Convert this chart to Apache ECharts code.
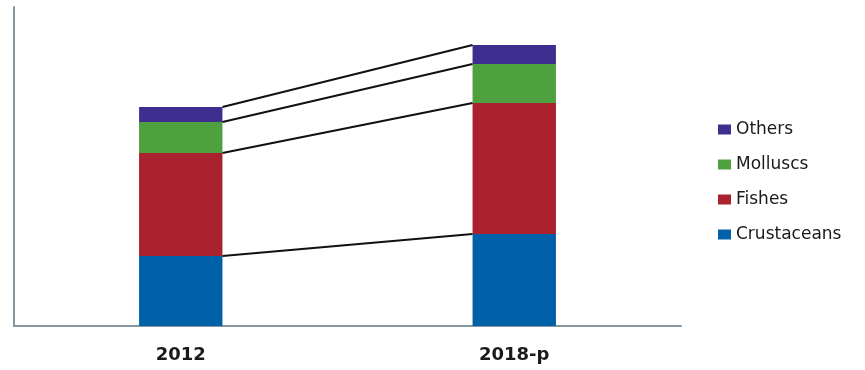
<!DOCTYPE html>
<html>
<head>
    <meta charset="utf-8">
    <title>Production by species group</title>
    <script src="https://cdn.jsdelivr.net/npm/echarts@6/dist/echarts.min.js"></script>
    <style>
        html, body { margin: 0; padding: 0; background: #fff; }
        #chart { width: 865px; height: 370px; }
    </style>
</head>
<body>
<div id="chart"></div>
<script type="text/javascript">
    // categories and values (arbitrary units)
    var years = ['2012', '2018-p'];
    var crustaceans = [7.0, 9.2];
    var fishes = [10.3, 13.1];
    var molluscs = [3.1, 3.9];
    var others = [1.5, 1.9];

    var names = ['Crustaceans', 'Fishes', 'Molluscs', 'Others'];
    var colors = ['#0061a9', '#a9222d', '#4fa03f', '#3d2e90'];
    var BAR_RATIO = 0.25;

    // cumulative tops of every stack layer, one row per layer: [2012, 2018-p]
    var layers = [crustaceans, fishes, molluscs, others];
    var tops = [];
    var run = [0, 0];
    layers.forEach(function (arr) {
        run = [run[0] + arr[0], run[1] + arr[1]];
        tops.push([run[0], run[1]]);
    });

    var myChart = echarts.init(document.getElementById('chart'));

    var series = layers.map(function (arr, i) {
        return {
            name: names[i],
            type: 'bar',
            stack: 'total',
            barWidth: (BAR_RATIO * 100) + '%',
            itemStyle: { color: colors[i] },
            data: arr
        };
    });

    // connector lines from the right edge of one bar to the left edge of the next
    series.push({
        type: 'custom',
        silent: true,
        z: 5,
        data: tops,
        renderItem: function (params, api) {
            var a = api.coord([0, api.value(0)]);
            var b = api.coord([1, api.value(1)]);
            var half = api.size([1, 0])[0] * BAR_RATIO / 2;
            return {
                type: 'line',
                shape: { x1: a[0] + half, y1: a[1], x2: b[0] - half, y2: b[1] },
                style: { stroke: '#111', lineWidth: 2 }
            };
        },
        encode: { x: -1, y: [0, 1] }
    });

    myChart.setOption({
        animation: false,
        grid: { left: 14, right: 184, top: 7, bottom: 44 },
        legend: {
            orient: 'vertical',
            left: 713,
            top: 116,
            itemWidth: 13,
            itemHeight: 10,
            itemGap: 18,
            icon: 'rect',
            data: ['Others', 'Molluscs', 'Fishes', 'Crustaceans'],
            textStyle: { fontFamily: 'DejaVu Sans', fontSize: 17, color: '#1a1a1a', lineHeight: 17 }
        },
        xAxis: {
            type: 'category',
            data: years,
            axisTick: { show: false },
            axisLine: { lineStyle: { color: '#8896a0', width: 2 } },
            axisLabel: { fontFamily: 'DejaVu Sans', fontSize: 18, fontWeight: 'bold', color: '#1a1a1a', margin: 20 }
        },
        yAxis: {
            type: 'value',
            min: 0,
            max: 31.9,
            splitLine: { show: false },
            axisLabel: { show: false },
            axisTick: { show: false },
            axisLine: { show: true, lineStyle: { color: '#8896a0', width: 2 } }
        },
        series: series
    });
</script>
</body>
</html>
